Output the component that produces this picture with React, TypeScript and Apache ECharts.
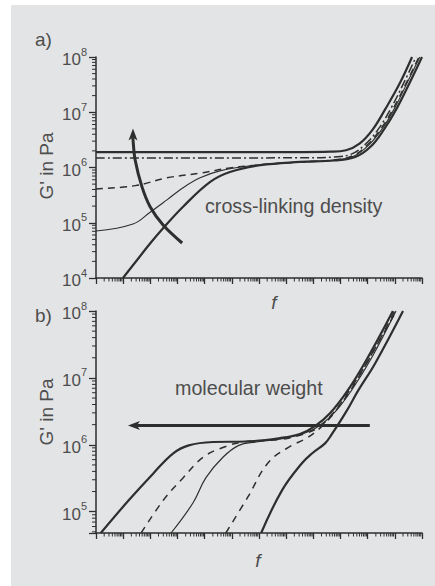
import React, { useEffect, useRef } from "react";
import * as echarts from "echarts";

// ---------- axis ranges ----------
const X_MIN = 1e-6;
const X_MAX = 1e6;
const YA_MIN = 1e4;
const YA_MAX = 1e8;
const YB_MIN = 4.8e4;
const YB_MAX = 1e8;

const X_DECADES = [-6, -5, -4, -3, -2, -1, 0, 1, 2, 3, 4, 5];
const YA_DECADES = [4, 5, 6, 7];
const YB_DECADES = [4, 5, 6, 7];
const MINOR_MULTS = [2, 3, 4, 5, 6, 7, 8, 9];

// ---------- panel a: cross-linking density ([f, G']) ----------
const aTopSolid = [[1e-6, 1.9e6], [40, 1.9e6], [4.1e2, 1.93e6], [1.6e3, 2.05e6], [5e3, 2.7e6], [1.5e4, 4.8e6], [4.5e4, 1.15e7], [1.5e5, 3.3e7], [4.3e5, 1e8]];
const aDashDot = [[1e-6, 1.48e6], [60, 1.5e6], [6.3e2, 1.55e6], [2.5e3, 1.75e6], [8e3, 2.6e6], [2.5e4, 5e6], [7e4, 1.15e7], [2.2e5, 3.5e7], [6e5, 1e8]];
const aDashed = [[1e-6, 4.1e5], [2.8e-5, 4.7e5], [4.1e-4, 6.5e5], [6.8e-3, 7.9e5], [8.5e-2, 9.8e5], [1.1, 1.12e6], [32, 1.26e6], [6e2, 1.38e6], [3e3, 1.65e6], [1e4, 2.6e6], [3.2e4, 5.2e6], [9e4, 1.2e7], [2.8e5, 3.6e7], [7.7e5, 1e8]];
const aThin = [[1e-6, 7.1e4], [2.3e-5, 9.5e4], [9.8e-5, 1.55e5], [4.1e-4, 2.6e5], [1.6e-3, 4.3e5], [6.8e-3, 6.5e5], [3.6e-2, 8.7e5], [0.47, 1.07e6], [14, 1.23e6], [6e2, 1.36e6], [3.2e3, 1.62e6], [1.1e4, 2.55e6], [3.5e4, 5.1e6], [1e5, 1.2e7], [3e5, 3.6e7], [8.3e5, 1e8]];
const aBottomSolid = [[9.8e-6, 1e4], [3.2e-5, 2.1e4], [9.8e-5, 4.2e4], [3e-4, 8e4], [1.6e-3, 1.95e5], [1.6e-2, 5.5e5], [8.5e-2, 8.3e5], [1.1, 1.1e6], [32, 1.26e6], [6e2, 1.34e6], [3.5e3, 1.55e6], [1.3e4, 2.4e6], [4e4, 4.9e6], [1.15e5, 1.15e7], [3.6e5, 3.5e7], [1e6, 1e8]];
const aArrow = [[1.48e-3, 4.3e4], [2.95e-4, 9.1e4], [9.8e-5, 1.95e5], [4.9e-5, 4.5e5], [2.75e-5, 1.38e6], [2.3e-5, 3.2e6], [2.3e-5, 5.1e6]];

// ---------- panel b: molecular weight ([f, G']) ----------
const bThick1 = [[1.5e-6, 4.8e4], [1.6e-5, 1.48e5], [1.26e-4, 3.7e5], [6.8e-4, 7.4e5], [2.6e-3, 9.8e5], [2e-2, 1.1e6], [0.33, 1.12e6], [5.9, 1.26e6], [32, 1.45e6], [115, 1.9e6], [410, 2.95e6], [1.9e3, 6.6e6], [1e4, 2e7], [8.5e4, 1e8]];
const bDashed1 = [[4.6e-5, 4.8e4], [3e-4, 1.48e5], [1.6e-3, 3.2e5], [8.7e-3, 6.5e5], [4.7e-2, 9.1e5], [0.26, 1.1e6], [5.9, 1.2e6], [32, 1.39e6], [148, 1.8e6], [525, 2.95e6], [2.2e3, 6.6e6], [1.2e4, 2e7], [1e5, 1e8]];
const bThin = [[5.8e-4, 4.8e4], [3.7e-3, 1.35e5], [1.1e-2, 3.2e5], [4.7e-2, 6.5e5], [0.18, 9.8e5], [0.78, 1.1e6], [9.1, 1.26e6], [49, 1.5e6], [174, 1.95e6], [630, 3.1e6], [2.6e3, 6.6e6], [1.4e4, 2e7], [1.1e5, 1e8]];
const bDashed2 = [[6e-2, 4.8e4], [0.39, 1.66e5], [2.1, 5.3e5], [11.7, 9.1e5], [63, 1.29e6], [270, 2.1e6], [955, 3.9e6], [3.4e3, 8.3e6], [1.7e4, 2.6e7], [1.15e5, 1e8]];
const bThick2 = [[1.2, 4.8e4], [7.1, 2.1e5], [38, 5.3e5], [89, 7.4e5], [270, 1.05e6], [447, 1.38e6], [1.6e3, 3.1e6], [4.5e3, 6.5e6], [1.9e4, 1.66e7], [2e5, 1e8]];
const bArrow = [[1.2e4, 1.95e6], [1.5e-5, 1.95e6]];

// ---------- texts ----------
const PANEL_LABELS = ["a)", "b)"];
const Y_NAME = "G' in Pa";
const X_NAME = "f";
const NOTE_A = "cross-linking density";
const NOTE_B = "molecular weight";

const INK = "#2e2e2e";
const TXT = "#4d4d4d";
const FONT = "'Liberation Sans', Arial, sans-serif";

function minorValues(decades: number[], lo: number, hi: number) {
  const out: number[] = [];
  decades.forEach((d) => MINOR_MULTS.forEach((m) => {
    const v = m * Math.pow(10, d);
    if (v > lo && v < hi) out.push(v);
  }));
  return out;
}

function lineSeries(data: number[][], idx: number, width: number, type: any) {
  return {
    type: "line",
    xAxisIndex: idx,
    yAxisIndex: idx,
    data,
    smooth: 0.4,
    showSymbol: false,
    symbol: "none",
    silent: true,
    lineStyle: { color: INK, width, type },
    z: 3,
  };
}

function arrowSeries(pts: number[][], idx: number, width: number, headLen: number, headW: number) {
  return {
    type: "custom",
    xAxisIndex: idx,
    yAxisIndex: idx,
    silent: true,
    z: 6,
    data: [pts[0]],
    renderItem: (_p: any, api: any) => {
      const p = pts.map((v) => api.coord(v));
      const n = p.length;
      const tip = p[n - 1];
      const prev = p[n - 2];
      const dx = tip[0] - prev[0];
      const dy = tip[1] - prev[1];
      const L = Math.hypot(dx, dy) || 1;
      const ux = dx / L, uy = dy / L;
      const nx = -uy, ny = ux;
      const bx = tip[0] - ux * headLen, by = tip[1] - uy * headLen;
      const notch = [tip[0] - ux * headLen * 0.75, tip[1] - uy * headLen * 0.75];
      const linePts = p.slice(0, n - 1).concat([notch]);
      return {
        type: "group",
        children: [
          { type: "polyline", shape: { points: linePts, smooth: n > 2 ? 0.35 : 0 }, style: { stroke: INK, lineWidth: width, fill: null } },
          { type: "polygon", shape: { points: [tip, [bx + nx * headW, by + ny * headW], notch, [bx - nx * headW, by - ny * headW]] }, style: { fill: INK } },
        ],
      };
    },
  };
}

function minorTickSeries(idx: number, yMin: number, yMax: number, yDecades: number[]) {
  const xm = minorValues(X_DECADES, X_MIN, X_MAX);
  const ym = minorValues(yDecades, yMin, yMax);
  return {
    type: "custom",
    xAxisIndex: idx,
    yAxisIndex: idx,
    silent: true,
    z: 2,
    data: [[X_MIN, yMin]],
    renderItem: (_p: any, api: any) => {
      const children: any[] = [];
      xm.forEach((v) => {
        const c = api.coord([v, yMin]);
        children.push({ type: "line", shape: { x1: c[0], y1: c[1], x2: c[0], y2: c[1] + 3.5 }, style: { stroke: INK, lineWidth: 1 } });
      });
      ym.forEach((v) => {
        const c = api.coord([X_MIN, v]);
        children.push({ type: "line", shape: { x1: c[0], y1: c[1], x2: c[0] - 4, y2: c[1] }, style: { stroke: INK, lineWidth: 1 } });
      });
      return { type: "group", children };
    },
  };
}

function yLabelFormatter(v: number) {
  const e = Math.log10(v);
  if (Math.abs(e - Math.round(e)) > 1e-6) return "";
  return `{b|10}{s|${Math.round(e)}}`;
}

function xAxis(idx: number) {
  return {
    type: "log",
    logBase: 10,
    gridIndex: idx,
    min: X_MIN,
    max: X_MAX,
    interval: 1,
    axisLine: { show: true, lineStyle: { color: INK, width: 1.5 } },
    axisTick: { show: true, length: 6, lineStyle: { color: INK, width: 1.3 } },
    axisLabel: { show: false },
    splitLine: { show: false },
    minorTick: { show: false },
  };
}

function yAxis(idx: number, min: number, max: number, useInterval: boolean) {
  const ax: any = {
    type: "log",
    logBase: 10,
    gridIndex: idx,
    min,
    max,
    axisLine: { show: true, lineStyle: { color: INK, width: 1.5 } },
    axisTick: { show: true, length: 7, lineStyle: { color: INK, width: 1.3 } },
    axisLabel: {
      show: true,
      margin: 9,
      formatter: yLabelFormatter,
      rich: {
        b: { fontSize: 17, color: TXT, fontFamily: FONT, lineHeight: 22, verticalAlign: "bottom" },
        s: { fontSize: 11, color: TXT, fontFamily: FONT, verticalAlign: "top", lineHeight: 12 },
      },
    },
    splitLine: { show: false },
  };
  if (useInterval) ax.interval = 1;
  return ax;
}

export default function App() {
  const ref = useRef<HTMLDivElement>(null);
  useEffect(() => {
    if (!ref.current) return;
    const chart = echarts.init(ref.current, null, { renderer: "svg" });
    const option: any = {
      animation: false,
      backgroundColor: "#ffffff",
      grid: [
        { left: 96, top: 57, width: 326, height: 221 },
        { left: 96, top: 311, width: 326, height: 222 },
      ],
      xAxis: [xAxis(0), xAxis(1)],
      yAxis: [yAxis(0, YA_MIN, YA_MAX, true), yAxis(1, YB_MIN, YB_MAX, false)],
      graphic: [
        { type: "rect", z: -10, shape: { x: 11, y: 5, width: 424, height: 581 }, style: { fill: "#e3e4e5" } },
        { type: "text", x: 35, y: 39, style: { text: PANEL_LABELS[0], font: `19px ${FONT}`, fill: TXT, verticalAlign: "middle" } },
        { type: "text", x: 35, y: 315, style: { text: PANEL_LABELS[1], font: `19px ${FONT}`, fill: TXT, verticalAlign: "middle" } },
        { type: "text", x: 46, y: 166, rotation: Math.PI / 2, style: { text: Y_NAME, font: `19px ${FONT}`, fill: TXT, align: "center", verticalAlign: "middle" } },
        { type: "text", x: 46, y: 412, rotation: Math.PI / 2, style: { text: Y_NAME, font: `19px ${FONT}`, fill: TXT, align: "center", verticalAlign: "middle" } },
        { type: "text", x: 274, y: 302, style: { text: X_NAME, font: `italic 19px ${FONT}`, fill: TXT, align: "center", verticalAlign: "middle" } },
        { type: "text", x: 258, y: 560, style: { text: X_NAME, font: `italic 19px ${FONT}`, fill: TXT, align: "center", verticalAlign: "middle" } },
        { type: "text", x: 205, y: 206, style: { text: NOTE_A, font: `19.7px ${FONT}`, fill: TXT, verticalAlign: "middle" } },
        { type: "text", x: 175, y: 388, style: { text: NOTE_B, font: `19.7px ${FONT}`, fill: TXT, verticalAlign: "middle" } },
      ],
      series: [
        minorTickSeries(0, YA_MIN, YA_MAX, YA_DECADES),
        minorTickSeries(1, YB_MIN, YB_MAX, YB_DECADES),
        lineSeries(aTopSolid, 0, 2.2, "solid"),
        lineSeries(aDashDot, 0, 1.5, [9, 3, 2, 3]),
        lineSeries(aDashed, 0, 1.5, [7, 5]),
        lineSeries(aThin, 0, 1.1, "solid"),
        lineSeries(aBottomSolid, 0, 2.2, "solid"),
        arrowSeries(aArrow, 0, 3, 12, 4.5),
        lineSeries(bThick1, 1, 2.2, "solid"),
        lineSeries(bDashed1, 1, 1.5, [7, 6]),
        lineSeries(bThin, 1, 1.2, "solid"),
        lineSeries(bDashed2, 1, 1.5, [7, 6]),
        lineSeries(bThick2, 1, 2.2, "solid"),
        arrowSeries(bArrow, 1, 3, 12, 4.5),
      ],
    };
    chart.setOption(option);
    return () => chart.dispose();
  }, []);
  return (
    <div style={{ position: "fixed", left: 0, top: 0, width: 435, height: 586, background: "#fff" }}>
      <div ref={ref} style={{ width: 435, height: 586 }} />
    </div>
  );
}
